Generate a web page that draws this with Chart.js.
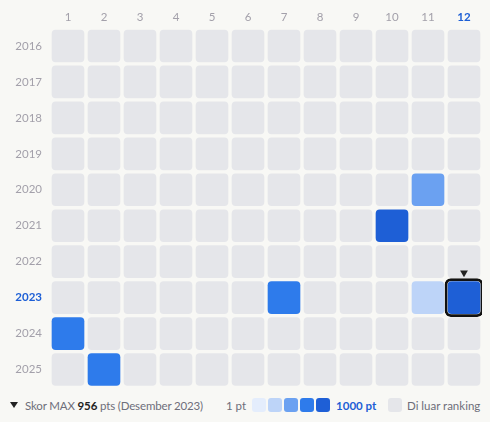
<!DOCTYPE html>
<html>
<head>
<meta charset="utf-8">
<script src="https://cdn.jsdelivr.net/npm/chart.js@4/dist/chart.umd.min.js"></script>
<style>
  html, body { margin: 0; padding: 0; background: #f8f8f5; }
  body { width: 490px; height: 422px; position: relative; overflow: hidden;
         font-family: Lato, sans-serif; font-size: 11.5px; color: #6e6e7a; }
  #c { position: absolute; left: 0; top: 0; }
  .grp { position: absolute; top: 396px; height: 18px; display: flex; align-items: center; white-space: nowrap; }
  .tri { width: 0; height: 0; border-left: 4px solid transparent; border-right: 4px solid transparent;
         border-top: 6px solid #222; margin-right: 7px; }
  .sw { width: 14px; height: 14px; border-radius: 3px; margin-right: 2px; }
  b.max { color: #222; }
  b.top { color: #1d5fd6; margin-left: 4px; }
</style>
</head>
<body>
<canvas id="c" width="490" height="392"></canvas>
<div class="grp" style="left:10px;letter-spacing:-0.15px"><span class="tri"></span>Skor MAX&nbsp;<b class="max" id="maxVal"></b>&nbsp;pts (Desember 2023)</div>
<div class="grp" style="left:226px" id="scaleLegend"><span style="margin-right:6px">1 pt</span></div>
<div class="grp" style="left:388px"><span class="sw" style="background:#e5e6ea;margin-right:5px"></span>Di luar ranking</div>
<script>
const months = ['1', '2', '3', '4', '5', '6', '7', '8', '9', '10', '11', '12'];
const years = [2016, 2017, 2018, 2019, 2020, 2021, 2022, 2023, 2024, 2025];

// ranked months only
const scoreYears = [2020, 2021, 2023, 2023, 2023, 2024, 2025];
const scoreMonths = ['11', '10', '7', '11', '12', '1', '2'];
const scoreValues = [480, 870, 700, 300, 956, 720, 690];

const scaleColors = ['#e4edfc', '#bdd4f8', '#6ba1f1', '#2e7beb', '#1e5fd6'];
const emptyColor = '#e5e6ea';
const labelColor = '#a3a0aa';
const hiColor = '#1d5fd6';
const tickFont = 'Lato';

function colorFor(v) {
  const i = Math.min(scaleColors.length - 1, Math.floor((v - 1) / 200));
  return scaleColors[i];
}

let maxIdx = 0;
scoreValues.forEach((v, i) => { if (v > scoreValues[maxIdx]) maxIdx = i; });
const maxYear = scoreYears[maxIdx];
const maxMonth = scoreMonths[maxIdx];

const half = 16 / 36;
const cells = [];
const cellColors = [];
years.forEach(y => {
  months.forEach(m => {
    cells.push({ x: m, y: [y - half, y + half] });
    const k = scoreYears.findIndex((yy, i) => yy === y && scoreMonths[i] === m);
    cellColors.push(k >= 0 ? colorFor(scoreValues[k]) : emptyColor);
  });
});

document.getElementById('maxVal').textContent = scoreValues[maxIdx];
const sl = document.getElementById('scaleLegend');
scaleColors.forEach(c => {
  const s = document.createElement('span');
  s.className = 'sw';
  s.style.background = c;
  sl.appendChild(s);
});
const topLabel = document.createElement('b');
topLabel.className = 'top';
topLabel.textContent = '1000 pt';
sl.appendChild(topLabel);

const isMaxMonth = ctx => ctx.index !== undefined && months[ctx.index] === maxMonth;
const isMaxYear = ctx => !!ctx.tick && ctx.tick.value === maxYear;

new Chart(document.getElementById('c'), {
  type: 'bar',
  data: {
    labels: months,
    datasets: [
      {
        type: 'line',
        data: [{ x: maxMonth, y: maxYear - 0.69 }],
        showLine: false,
        pointStyle: 'triangle',
        rotation: 180,
        pointRadius: 4.5,
        pointBackgroundColor: '#222',
        pointBorderWidth: 0,
        order: 0
      },
      {
        data: [{ x: maxMonth, y: [maxYear - 19 / 36, maxYear + 19 / 36] }],
        backgroundColor: 'rgba(0,0,0,0)',
        borderColor: '#111',
        borderWidth: 2,
        borderRadius: 6,
        borderSkipped: false,
        barThickness: 38,
        grouped: false,
        order: 1
      },
      {
        data: cells,
        backgroundColor: cellColors,
        borderWidth: 0,
        borderRadius: 4,
        borderSkipped: false,
        barThickness: 32,
        grouped: false,
        order: 2
      }
    ]
  },
  options: {
    responsive: false,
    animation: false,
    layout: { padding: { left: 0, right: 8, top: 0, bottom: 4 } },
    plugins: { legend: { display: false }, tooltip: { enabled: false } },
    scales: {
      x: {
        type: 'category',
        position: 'top',
        offset: true,
        grid: { display: false, drawTicks: false },
        border: { display: false },
        ticks: {
          padding: 4,
          color: ctx => isMaxMonth(ctx) ? hiColor : labelColor,
          font: ctx => ({ family: tickFont, size: 11.5, weight: isMaxMonth(ctx) ? 'bold' : 'normal' })
        },
        afterFit: s => { s.height = 28; s.paddingLeft = 0; s.paddingRight = 0; }
      },
      y: {
        type: 'linear',
        reverse: true,
        min: years[0] - 0.5,
        max: years[years.length - 1] + 0.5,
        grid: { display: false, drawTicks: false },
        border: { display: false },
        afterBuildTicks: s => { s.ticks = years.map(v => ({ value: v })); },
        ticks: {
          padding: 8,
          callback: v => String(v),
          color: ctx => isMaxYear(ctx) ? hiColor : labelColor,
          font: ctx => ({ family: tickFont, size: 11.5, weight: isMaxYear(ctx) ? 'bold' : 'normal' })
        },
        afterFit: s => { s.width = 50; s.paddingTop = 0; s.paddingBottom = 0; }
      }
    }
  }
});
</script>
</body>
</html>
